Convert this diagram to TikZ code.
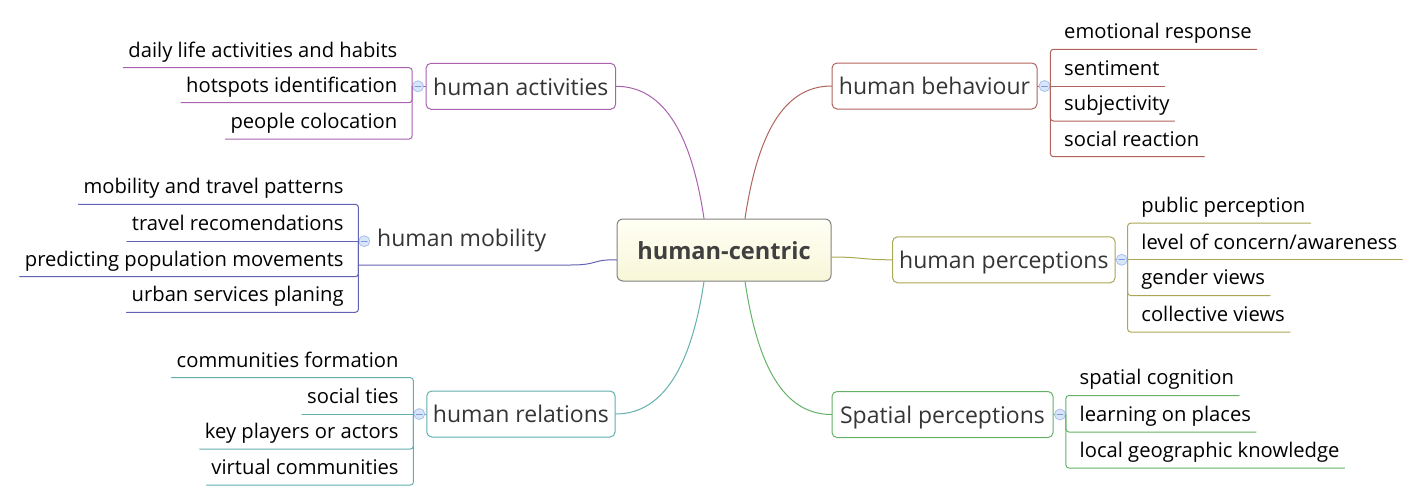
\documentclass[tikz,border=0pt]{standalone}
\usepackage{fontspec}
\setmainfont{Open Sans}
\usetikzlibrary{positioning}

\definecolor{actcol}{HTML}{A862B0}
\definecolor{behcol}{HTML}{B0625C}
\definecolor{percol}{HTML}{ABA752}
\definecolor{spacol}{HTML}{64B264}
\definecolor{relcol}{HTML}{63AFAE}
\definecolor{mobcol}{HTML}{6262B6}
\definecolor{topictext}{HTML}{353535}
\definecolor{centertext}{HTML}{404040}
\definecolor{ctrtop}{HTML}{FFFFF5}
\definecolor{ctrbot}{HTML}{F8F6D8}
\definecolor{expfill}{HTML}{D8E5FA}
\definecolor{expdraw}{HTML}{A8C2EC}
\definecolor{expline}{HTML}{7E9DD6}

\newcommand\leaffont{\fontsize{20.2}{24}\selectfont}
\newcommand\topicfont{\fontsize{23}{27}\selectfont}

\tikzset{
  centre/.style={draw=black!50, line width=1pt, rounded corners=6pt,
    top color=ctrtop, bottom color=ctrbot, minimum width=214pt, minimum height=62pt,
    text=centertext, font=\fontsize{23.6}{28}\selectfont\bfseries,
    text height=18.6pt, text depth=0pt},
  topic/.style={draw=#1, line width=1pt, rounded corners=5pt, fill=white,
    minimum height=46pt, inner xsep=0pt, text height=17.5pt, text depth=0pt,
    text=topictext, font=\topicfont},
  leaf/.style={inner xsep=5pt, inner ysep=6pt, text height=15pt, text depth=4.5pt,
    font=\leaffont},
  branch/.style={draw=#1, line width=1pt},
  expander/.style={circle, draw=expdraw, fill=expfill, line width=0.8pt,
    minimum size=11pt, inner sep=0pt,
    path picture={\draw[expline, line width=0.8pt]
      ([xshift=-3pt]path picture bounding box.center) -- ([xshift=3pt]path picture bounding box.center);}},
}

\begin{document}
\begin{tikzpicture}[x=1pt,y=-1pt,line join=round,line cap=round]
  \useasboundingbox (0,0) rectangle (1420,501);

  % Central topic
  \node[centre] (ctr) at (724,250) {human-centric};

  % Main topics
  \node[topic=actcol, minimum width=189.5pt] (act) at (520.8,86.3) {human activities};
  \node[topic=behcol, minimum width=205pt] (beh) at (934.5,86) {human behaviour};
  \node[topic=percol, minimum width=222.5pt] (per) at (1003.8,259.8) {human perceptions};
  \node[topic=spacol, minimum width=221pt] (spa) at (942.5,414.5) {Spatial perceptions};
  \node[topic=relcol, minimum width=188.3pt] (rel) at (520.9,414) {human relations};
  \node[anchor=base west, inner sep=0pt, text=topictext, font=\topicfont] (mob) at (377,246.7) {human mobility};
  \coordinate (mobend) at (570,265);

  % Expand markers
  \node[expander] (actx) at (418,86.3) {};
  \node[expander] (behx) at (1044.5,86) {};
  \node[expander] (perx) at (1121.7,259.8) {};
  \node[expander] (spax) at (1060,414.5) {};
  \node[expander] (relx) at (419.3,414) {};
  \node[expander] (mobx) at (364.3,241.2) {};

  % Branches from the centre
  \draw[branch=actcol] ([xshift=-20pt]ctr.north) .. controls +(-12,-80) and +(50,0) .. (act.east);
  \draw[branch=behcol] ([xshift=21pt]ctr.north) .. controls +(12,-80) and +(-50,0) .. (beh.west);
  \draw[branch=relcol] ([xshift=-20pt]ctr.south) .. controls +(-12,80) and +(50,0) .. (rel.east);
  \draw[branch=spacol] ([xshift=21pt]ctr.south) .. controls +(12,80) and +(-50,0) .. (spa.west);
  \draw[branch=percol] ([yshift=-7pt]ctr.east) .. controls +(30,0) and +(-30,0) .. (per.west);
  \draw[branch=mobcol] ([yshift=-10pt]ctr.west) .. controls +(-25,-1) and +(30,0) .. (mobend) -- (mobend -| mobx.west);

  % Topic to marker
  \draw[branch=actcol] (act) -- (actx);
  \draw[branch=behcol] (beh) -- (behx);
  \draw[branch=percol] (per) -- (perx);
  \draw[branch=spacol] (spa) -- (spax);
  \draw[branch=relcol] (rel) -- (relx);

  % human activities
  \foreach \nm/\yy/\txt in {a1/67.7/daily life activities and habits, a2/102.7/hotspots identification, a3/139/people colocation}
    \node[leaf, anchor=south east] (\nm) at (402.5,\yy) {\txt};
  \draw[branch=actcol, rounded corners=3pt] (a1.south west) -| (actx.west) |- (a3.south west);
  \draw[branch=actcol, rounded corners=3pt] (actx.west) |- (a2.south west);

  % human behaviour
  \foreach \nm/\yy/\txt in {b1/49.3/emotional response, b2/86/sentiment, b3/121/subjectivity, b4/156.7/social reaction}
    \node[leaf, anchor=south west] (\nm) at (1059,\yy) {\txt};
  \draw[branch=behcol, rounded corners=3pt] (b1.south east) -| (behx.east) |- (b4.south east);
  \draw[branch=behcol] (behx.east) -- (b2.south east);
  \draw[branch=behcol, rounded corners=3pt] (behx.east) |- (b3.south east);

  % human perceptions
  \foreach \nm/\yy/\txt in {p1/223.2/public perception, p2/259.8/{level of concern/awareness}, p3/295.5/gender views, p4/332/collective views}
    \node[leaf, anchor=south west] (\nm) at (1136.2,\yy) {\txt};
  \draw[branch=percol, rounded corners=3pt] (p1.south east) -| (perx.east) |- (p4.south east);
  \draw[branch=percol] (perx.east) -- (p2.south east);
  \draw[branch=percol, rounded corners=3pt] (perx.east) |- (p3.south east);

  % Spatial perceptions
  \foreach \nm/\yy/\txt in {s1/395.5/spatial cognition, s2/432/learning on places, s3/468/local geographic knowledge}
    \node[leaf, anchor=south west] (\nm) at (1074.5,\yy) {\txt};
  \draw[branch=spacol, rounded corners=3pt] (s1.south east) -| (spax.east) |- (s3.south east);
  \draw[branch=spacol, rounded corners=3pt] (spax.east) |- (s2.south east);

  % human relations
  \foreach \nm/\yy/\txt in {r1/377.7/communities formation, r2/414/social ties, r3/449/key players or actors, r4/485/virtual communities}
    \node[leaf, anchor=south east] (\nm) at (403.8,\yy) {\txt};
  \draw[branch=relcol, rounded corners=3pt] (r1.south west) -| (relx.west) |- (r4.south west);
  \draw[branch=relcol] (relx.west) -- (r2.south west);
  \draw[branch=relcol, rounded corners=3pt] (relx.west) |- (r3.south west);

  % human mobility
  \foreach \nm/\yy/\txt in {m1/204.3/mobility and travel patterns, m2/241.2/travel recomendations, m3/276.7/predicting population movements, m4/312.3/urban services planing}
    \node[leaf, anchor=south east] (\nm) at (348.8,\yy) {\txt};
  \draw[branch=mobcol, rounded corners=3pt] (m1.south west) -| (mobx.west) |- (m4.south west);
  \draw[branch=mobcol] (mobx.west) -- (m2.south west);
  \draw[branch=mobcol, rounded corners=3pt] (mobx.west) |- (m3.south west);
\end{tikzpicture}
\end{document}
